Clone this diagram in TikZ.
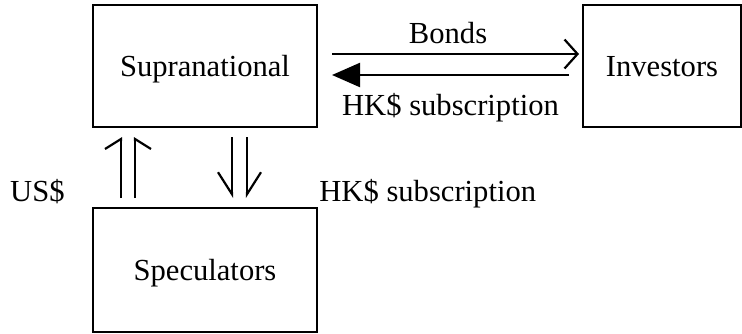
\documentclass[tikz,border=0pt]{standalone}
\usepackage{fontspec}
\setmainfont{Liberation Serif}
\usetikzlibrary{
  arrows.meta,
  positioning
}
\tikzset{
  every node/.style = {font=\fontsize{15.3}{18}\selectfont},
  party/.style = {draw, line width=1.4pt, inner sep=0pt, outer sep=0pt,
    minimum width=112pt, minimum height=61pt, text depth=0pt},
  flow/.style = {line width=1.1pt},
  bondtip/.style = {-{Straight Barb[length=6.5pt, width=14.5pt]}},
  cashtip/.style = {-{Triangle[length=14pt, width=12pt]}},
  upbarb/.style = {-{Straight Barb[#1, length=5pt, width=16pt]}},
  downbarb/.style = {-{Straight Barb[#1, length=11pt, width=14pt]}},
}
\begin{document}
\begin{tikzpicture}
  \useasboundingbox (-102.5pt,-133.5pt) rectangle (268.5pt,33pt);
  \node[party] (supra) {Supranational};
  \node[party, minimum width=79pt, right=133pt of supra] (inv) {Investors};
  \node[party, minimum height=62pt, below=40.5pt of supra] (spec) {Speculators};
  \draw[flow, bondtip]
      ([xshift=7.5pt, yshift=6pt]supra.east)
      -- node[pos=0.47, above=1pt] (bonds) {Bonds}
      ([xshift=-2pt, yshift=6pt]inv.west);
  \draw[flow, cashtip]
      ([xshift=-7pt, yshift=-4.5pt]inv.west)
      -- node[below=5.5pt] (hkin) {HK\$ subscription}
      ([xshift=7.5pt, yshift=-4.5pt]supra.east);
  \draw[flow, upbarb=left]
      ([xshift=-42pt, yshift=5pt]spec.north) -- ([xshift=-42pt, yshift=-5pt]supra.south);
  \draw[flow, upbarb=right]
      ([xshift=-35pt, yshift=5pt]spec.north) -- ([xshift=-35pt, yshift=-5pt]supra.south);
  \draw[flow, downbarb=right]
      ([xshift=13.5pt, yshift=-5pt]supra.south) -- ([xshift=13.5pt, yshift=5pt]spec.north);
  \draw[flow, downbarb=left]
      ([xshift=21pt, yshift=-5pt]supra.south) -- ([xshift=21pt, yshift=5pt]spec.north);
  \node[anchor=base east, inner sep=0pt] (usd) at ([xshift=-14pt, yshift=3.5pt]spec.north west) {US\$};
  \node[anchor=base west, inner sep=0pt] (hkout) at ([xshift=1pt, yshift=3.5pt]spec.north east) {HK\$ subscription};
\end{tikzpicture}
\end{document}
